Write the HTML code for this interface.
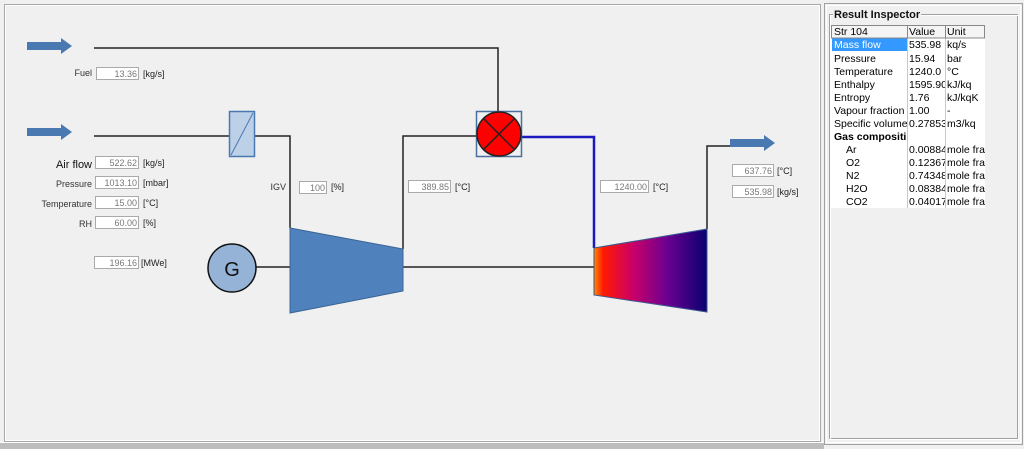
<!DOCTYPE html>
<html><head><meta charset="utf-8"><style>
html,body{margin:0;padding:0;background:#f0f0f0;width:1024px;height:449px;overflow:hidden;font-family:"Liberation Sans",sans-serif}
svg{position:absolute;left:0;top:0}
</style></head><body>
<svg width="1024" height="449" viewBox="0 0 1024 449" font-family="Liberation Sans, sans-serif">
<defs>
<linearGradient id="tg" x1="0" x2="1" y1="0" y2="0">
<stop offset="0" stop-color="#ff8a00"/><stop offset="0.08" stop-color="#ff1a00"/>
<stop offset="0.35" stop-color="#c8006a"/><stop offset="0.65" stop-color="#6a0090"/>
<stop offset="1" stop-color="#0a0070"/></linearGradient>
<clipPath id="c1"><rect x="831" y="25" width="76" height="190"/></clipPath>
<clipPath id="c2"><rect x="908" y="25" width="37" height="190"/></clipPath>
<clipPath id="c3"><rect x="946" y="25" width="39" height="190"/></clipPath>
</defs>
<rect width="1024" height="449" fill="#f0f0f0"/>
<rect x="4.5" y="4.5" width="816" height="437" fill="#f0f0f0" stroke="#a8a8a8"/>
<rect x="5.5" y="5.5" width="814" height="435" fill="none" stroke="#fff"/>
<rect x="0" y="442" width="824" height="7" fill="#bdbdbd"/>
<rect x="0" y="442" width="824" height="1" fill="#fff"/>
<rect x="824.5" y="3.5" width="198" height="441" fill="#f0f0f0" stroke="#a0a0a0"/>
<rect x="826.5" y="5.5" width="194" height="437" fill="none" stroke="#fff"/>
<rect x="829.5" y="14.5" width="188" height="424" fill="none" stroke="#a0a0a0"/>
<rect x="830.5" y="15.5" width="188" height="424" fill="none" stroke="#fff"/>
<rect x="833" y="7" width="88" height="14" fill="#f0f0f0"/>
<text x="834" y="18" font-size="11" font-weight="bold" fill="#111">Result Inspector</text>
<rect x="831" y="25" width="154" height="183" fill="#fff"/>
<rect x="831" y="25" width="154" height="13" fill="#f4f4f4"/>
<rect x="832" y="38" width="75" height="13" fill="#3399ff"/>
<g stroke="#c8c8c8" stroke-width="1">
<line x1="907.5" y1="25" x2="907.5" y2="208"/><line x1="945.5" y1="25" x2="945.5" y2="208"/>
</g>
<rect x="831.5" y="25.5" width="153" height="12.5" fill="none" stroke="#888"/>
<line x1="907.5" y1="25" x2="907.5" y2="38" stroke="#888"/><line x1="945.5" y1="25" x2="945.5" y2="38" stroke="#888"/>
<g font-size="10.5" fill="#000">
<g clip-path="url(#c1)">
<text x="834" y="35">Str 104</text>
<text x="834" y="48" fill="#fff">Mass flow</text>
<text x="834" y="62">Pressure</text>
<text x="834" y="75">Temperature</text>
<text x="834" y="88">Enthalpy</text>
<text x="834" y="101">Entropy</text>
<text x="834" y="114">Vapour fraction</text>
<text x="834" y="127">Specific volume</text>
<text x="834" y="140" font-weight="bold">Gas compositi</text>
<text x="846" y="153">Ar</text>
<text x="846" y="166">O2</text>
<text x="846" y="179">N2</text>
<text x="846" y="192">H2O</text>
<text x="846" y="205">CO2</text>
</g>
<g clip-path="url(#c2)">
<text x="909" y="35">Value</text>
<text x="909" y="48">535.98</text>
<text x="909" y="62">15.94</text>
<text x="909" y="75">1240.0</text>
<text x="909" y="88">1595.90</text>
<text x="909" y="101">1.76</text>
<text x="909" y="114">1.00</text>
<text x="909" y="127">0.27853</text>
<text x="909" y="153">0.00884</text>
<text x="909" y="166">0.12367</text>
<text x="909" y="179">0.74348</text>
<text x="909" y="192">0.08384</text>
<text x="909" y="205">0.04017</text>
</g>
<g clip-path="url(#c3)">
<text x="947" y="35">Unit</text>
<text x="947" y="48">kq/s</text>
<text x="947" y="62">bar</text>
<text x="947" y="75">°C</text>
<text x="947" y="88">kJ/kq</text>
<text x="947" y="101">kJ/kqK</text>
<text x="947" y="114">-</text>
<text x="947" y="127">m3/kq</text>
<text x="947" y="153">mole fra</text>
<text x="947" y="166">mole fra</text>
<text x="947" y="179">mole fra</text>
<text x="947" y="192">mole fra</text>
<text x="947" y="205">mole fra</text>
</g>
</g>
<g fill="none" stroke="#222" stroke-width="1.5">
<polyline points="94,48 498,48 498,111"/>
<polyline points="94,136 229,136"/>
<polyline points="255,136 290,136 290,228"/>
<polyline points="403,249 403,136 476,136"/>
<line x1="256" y1="267" x2="290" y2="267"/>
<line x1="403" y1="267" x2="594" y2="267"/>
<polyline points="707,229 707,146 730,146"/>
</g>
<polyline points="522,137 594,137 594,248" fill="none" stroke="#1a1ac0" stroke-width="2.5"/>
<g fill="#4a78b0">
<path d="M27,42 H61 V38 L72,46 L61,54 V50 H27Z"/>
<path d="M27,128 H61 V124 L72,132 L61,140 V136 H27Z"/>
<path d="M730,139 H764 V135 L775,143 L764,151 V147 H730Z"/>
</g>
<rect x="229.5" y="111.5" width="25" height="45" fill="#bcd0e8" stroke="#4a78b0" stroke-width="1.5"/>
<line x1="231" y1="155" x2="253" y2="113" stroke="#4a78b0"/>
<rect x="476.5" y="111.5" width="45" height="45" fill="#f0f0f0" stroke="#4a70a0" stroke-width="1.5"/>
<circle cx="499" cy="134" r="22" fill="#ff0000" stroke="#222" stroke-width="1.5"/>
<line x1="483.4" y1="118.4" x2="514.6" y2="149.6" stroke="#222" stroke-width="1.5"/>
<line x1="514.6" y1="118.4" x2="483.4" y2="149.6" stroke="#222" stroke-width="1.5"/>
<polygon points="290,228 403,249 403,291 290,313" fill="#4f81bd" stroke="#3a6496"/>
<polygon points="594,248 707,229 707,312 594,295" fill="url(#tg)" stroke="#3a5a90"/>
<circle cx="232" cy="268" r="24" fill="#95b3d7" stroke="#111" stroke-width="1.5"/>
<text x="232" y="276" font-size="20" text-anchor="middle" fill="#111">G</text>
<g font-size="9" fill="#777">
<g fill="#fff" stroke="#aaa">
<rect x="96.5" y="67.5" width="42" height="12"/>
<rect x="95.5" y="156.5" width="43" height="12"/>
<rect x="95.5" y="176.5" width="43" height="12"/>
<rect x="95.5" y="196.5" width="43" height="12"/>
<rect x="95.5" y="216.5" width="43" height="12"/>
<rect x="94.5" y="256.5" width="44" height="12"/>
<rect x="299.5" y="181.5" width="27" height="12"/>
<rect x="408.5" y="180.5" width="42" height="12"/>
<rect x="600.5" y="180.5" width="48" height="12"/>
<rect x="732.5" y="164.5" width="41" height="12"/>
<rect x="732.5" y="185.5" width="41" height="12"/>
</g>
<g text-anchor="end">
<text x="137" y="77">13.36</text><text x="137" y="166">522.62</text><text x="137" y="186">1013.10</text>
<text x="137" y="206">15.00</text><text x="137" y="226">60.00</text><text x="137" y="266">196.16</text>
<text x="325" y="191">100</text><text x="449" y="190">389.85</text><text x="647" y="190">1240.00</text>
<text x="772" y="174">637.76</text><text x="772" y="195">535.98</text>
</g>
</g>
<g font-size="9" fill="#222">
<text x="143" y="77">[kg/s]</text><text x="143" y="166">[kg/s]</text><text x="143" y="186">[mbar]</text>
<text x="143" y="206">[°C]</text><text x="143" y="226">[%]</text><text x="141" y="266">[MWe]</text>
<text x="331" y="190">[%]</text><text x="455" y="190">[°C]</text><text x="653" y="190">[°C]</text>
<text x="777" y="174">[°C]</text><text x="777" y="195">[kg/s]</text>
<g text-anchor="end" fill="#333">
<text x="92" y="76">Fuel</text><text x="92" y="187">Pressure</text><text x="92" y="207">Temperature</text>
<text x="92" y="227">RH</text><text x="286" y="190">IGV</text>
</g>
<text x="92" y="168" text-anchor="end" font-size="11" fill="#111">Air flow</text>
</g>
</svg>
</body></html>
